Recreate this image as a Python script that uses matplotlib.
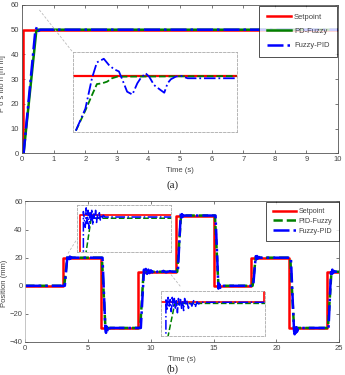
import matplotlib.pyplot as plt

# ---- (a) step response to 50 mm ----
a_sp_t = [0, 0.03, 0.03, 10]
a_sp_p = [0, 0, 50, 50]
a_pd_t = [0, 0.05, 0.45, 0.5, 10]
a_pd_p = [0, 0, 49.3, 50, 50]
a_fp_t = [0, 0.05, 0.42, 0.47, 0.52, 0.58, 10]
a_fp_p = [0, 0, 49.5, 51, 49.5, 50, 50]

# zoomed view (inset of panel a)
a_in_sp_t = [0.35, 0.85]
a_in_sp_p = [50, 50]
a_in_pd_t = [0.360, 0.389, 0.409, 0.424, 0.440, 0.455, 0.470, 0.486, 0.848]
a_in_pd_p = [47.28, 48.29, 49.05, 49.60, 49.64, 49.72, 49.89, 49.97, 50.0]
a_in_fp_t = [0.360, 0.389, 0.409, 0.424, 0.445, 0.460, 0.476, 0.491, 0.501, 0.516,
             0.532, 0.547, 0.557, 0.572, 0.583, 0.598, 0.618, 0.629, 0.639, 0.649,
             0.664, 0.680, 0.700, 0.848]
a_in_fp_p = [47.28, 48.38, 49.89, 50.68, 50.86, 50.56, 50.34, 50.23, 49.84, 49.22,
             49.08, 49.64, 49.89, 50.14, 49.97, 49.55, 49.30, 49.17, 49.64, 49.84,
             49.97, 50.01, 49.89, 49.89]

# ---- (b) multi-step tracking ----
b_sp_t = [0, 3, 6, 9, 12, 15, 18, 21, 24, 25]
b_sp_p = [0, 20, -30, 10, 50, 0, 20, -30, 10, 10]
b_pd_t = [0, 3.1, 3.35, 6.1, 6.38, 9.15, 9.42, 12.1, 12.4, 15.1, 15.38, 18.1, 18.35,
          21.1, 21.4, 24.1, 24.38, 25]
b_pd_p = [0, 0, 20, 20, -30, -30, 10, 10, 50, 50, 0, 0, 20, 20, -30, -30, 10, 10]
b_fp_t = [0, 3.15, 3.35, 3.4, 3.45, 3.5, 3.55, 3.6, 3.65, 3.75, 6.15, 6.38, 6.43, 6.48,
          6.53, 6.58, 6.65, 6.75, 9.2, 9.45, 9.5, 9.6, 9.7, 9.8, 9.9, 10.0, 10.1, 10.2,
          10.4, 10.6, 10.8, 11.0, 11.2, 11.5, 11.8, 12.15, 12.38, 12.43, 12.48, 12.55,
          12.65, 15.15, 15.38, 15.45, 15.52, 15.6, 15.7, 18.15, 18.35, 18.4, 18.45, 18.5,
          18.6, 18.7, 21.15, 21.4, 21.45, 21.5, 21.55, 21.6, 21.65, 21.7, 21.8, 24.15,
          24.35, 24.4, 24.45, 24.5, 24.6, 24.7, 25]
b_fp_p = [0, 0, 21, 18.5, 21.5, 19, 20.8, 19.3, 20.4, 20, 20, -31.5, -33.5, -29, -32.5,
          -29.5, -31, -30, -30, 11.5, 8, 12, 8.5, 11.5, 9, 11, 9.5, 10.8, 9.3, 10.7, 9.5,
          10.6, 9.6, 10.4, 10, 10, 51.5, 48.5, 51, 49.3, 50, 50, -2, 1.2, -1.5, 0.5, 0, 0,
          21, 18.8, 21.2, 19.3, 20.5, 20, 20, -32, -34.5, -29, -33.5, -29.5, -32.5, -30.5,
          -30, -30, 11.5, 8.5, 11.5, 9, 10.5, 10, 10]

# inset 1 of (b): step at 3 s
b1_sp_t = [2.97, 3.0, 3.0, 3.97]
b1_sp_p = [16, 16, 20, 20]
b1_pd_t = [3.05, 3.12, 3.15, 3.97]
b1_pd_p = [16, 19.6, 19.75, 19.75]
b1_fp_t = [3.04, 3.04, 3.06, 3.07, 3.08, 3.09, 3.10, 3.11, 3.12, 3.13, 3.14, 3.15, 3.16,
           3.17, 3.18, 3.19, 3.20, 3.21, 3.22, 3.23, 3.24, 3.25, 3.27, 3.97]
b1_fp_p = [16.0, 20.3, 19.0, 20.6, 19.3, 20.4, 18.9, 20.2, 19.5, 20.5, 19.2, 20.1, 19.6,
           20.4, 19.4, 20.0, 19.7, 20.2, 19.6, 19.9, 19.7, 20.0, 19.85, 19.85]

# inset 2 of (b): level 10 mm between 9 s and 12 s
b2_sp_t = [9.0, 12.0, 12.0]
b2_sp_p = [10, 10, 50]
b2_pd_t = [9.15, 9.4, 9.5, 12.03]
b2_pd_p = [6.0, 9.8, 9.85, 9.85]
b2_fp_t = [9.145, 9.145, 9.18, 9.21, 9.24, 9.27, 9.30, 9.33, 9.36, 9.39, 9.42, 9.45,
           9.48, 9.51, 9.54, 9.57, 9.60, 9.63, 9.66, 9.69, 9.72, 9.75, 9.80, 9.85, 9.90,
           9.95, 10.0, 10.05, 10.1, 10.15, 12.03]
b2_fp_p = [6.0, 10.3, 9.2, 10.4, 9.6, 10.2, 9.1, 10.4, 9.5, 10.3, 9.3, 10.1, 9.0, 10.3,
           9.6, 10.2, 9.4, 10.0, 9.2, 10.3, 9.7, 10.1, 9.4, 10.0, 9.6, 10.1, 9.5, 10.0,
           9.8, 9.95, 9.95]

RED = "#ff0000"
GREEN = "#008000"
BLUE = "#0000ff"
TXT = "#444444"

plt.rcParams.update({
    "font.family": "Liberation Sans",
    "font.size": 5.5,
    "xtick.direction": "in",
    "ytick.direction": "in",
    "xtick.major.size": 2.5,
    "ytick.major.size": 2.5,
    "xtick.major.width": 0.5,
    "ytick.major.width": 0.5,
    "xtick.color": TXT,
    "ytick.color": TXT,
    "axes.edgecolor": "#555555",
    "axes.linewidth": 0.6,
})


def style_axes(ax):
    ax.tick_params(top=True, right=True, labelsize=5.5, pad=2, labelcolor=TXT)


def style_inset(ax):
    ax.set_xticks([])
    ax.set_yticks([])
    for s in ax.spines.values():
        s.set_linestyle((0, (3, 2)))
        s.set_edgecolor("#aaaaaa")
        s.set_linewidth(0.6)


fig = plt.figure(figsize=(3.45, 3.75), dpi=100)

# ---------------- (a) ----------------
ax1 = fig.add_axes([0.0638, 0.5912, 0.916, 0.3955])
ax1.plot(a_sp_t, a_sp_p, color=RED, lw=1.8, label="Setpoint")
ax1.plot(a_pd_t, a_pd_p, color=GREEN, lw=1.8, label="PD-Fuzzy")
ax1.plot(a_fp_t, a_fp_p, color=BLUE, lw=1.8, ls="-.", label="Fuzzy-PID")
ax1.set_xlim(0, 10)
ax1.set_ylim(0, 60)
ax1.set_xticks(range(0, 11))
ax1.set_yticks(range(0, 61, 10))
style_axes(ax1)
ax1.set_xlabel("Time (s)", fontsize=5.5, color=TXT, labelpad=3)
ax1.set_ylabel("P o s itio n [m m]", fontsize=5.5, color=TXT)
ax1.yaxis.set_label_coords(-0.052, 0.47)
ax1.plot([0.55, 1.6], [58, 41], color="#bbbbbb", lw=0.6, ls=(0, (3, 2)))
leg = ax1.legend(loc="upper right", fontsize=5.5, frameon=True, fancybox=False,
                 edgecolor="black", handlelength=3.2, labelspacing=0.9,
                 borderpad=1.0, borderaxespad=0.1, handletextpad=0.4)
leg.get_frame().set_linewidth(0.6)
for t in leg.get_texts():
    t.set_color(TXT)

in1 = ax1.inset_axes([1.6, 8.5, 5.2, 32.5], transform=ax1.transData)
in1.plot(a_in_sp_t, a_in_sp_p, color=RED, lw=1.6)
in1.plot(a_in_pd_t, a_in_pd_p, color=GREEN, lw=1.3, ls="--")
in1.plot(a_in_fp_t, a_in_fp_p, color=BLUE, lw=1.3, ls="-.")
in1.set_xlim(0.35, 0.85)
in1.set_ylim(47.2, 51.2)
style_inset(in1)

fig.text(0.5, 1 - 185 / 375, "(a)", family="Liberation Serif", fontsize=8,
         ha="center", va="center", color="#222222")

# ---------------- (b) ----------------
ax2 = fig.add_axes([0.0733, 0.088, 0.910, 0.3747])
ax2.plot(b_sp_t, b_sp_p, color=RED, lw=1.8, drawstyle="steps-post", label="Setpoint")
ax2.plot(b_pd_t, b_pd_p, color=GREEN, lw=1.8, ls="--", label="PID-Fuzzy")
ax2.plot(b_fp_t, b_fp_p, color=BLUE, lw=1.8, ls="-.", label="Fuzzy-PID")
ax2.set_xlim(0, 25)
ax2.set_ylim(-40, 60)
ax2.set_xticks(range(0, 26, 5))
ax2.set_yticks(range(-40, 61, 20))
style_axes(ax2)
ax2.spines["left"].set_edgecolor("#bbbbbb")
ax2.set_xlabel("Time (s)", fontsize=5.5, color=TXT, labelpad=3)
ax2.set_ylabel("Position (mm)", fontsize=5.5, color=TXT)
ax2.yaxis.set_label_coords(-0.055, 0.42)
ax2.plot([3.4, 4.1], [23, 33], color="#bbbbbb", lw=0.6, ls=(0, (3, 2)))
ax2.plot([11.6, 12.4], [8, -1], color="#bbbbbb", lw=0.6, ls=(0, (3, 2)))
leg2 = ax2.legend(loc="upper right", fontsize=5.2, frameon=True, fancybox=False,
                  edgecolor="black", handlelength=3.2, labelspacing=0.35,
                  borderpad=0.9, borderaxespad=0.05, handletextpad=0.4)
leg2.get_frame().set_linewidth(0.6)
for t in leg2.get_texts():
    t.set_color(TXT)

in2 = ax2.inset_axes([4.1, 24.2, 7.5, 33], transform=ax2.transData)
in2.plot(b1_sp_t, b1_sp_p, color=RED, lw=1.2)
in2.plot(b1_pd_t, b1_pd_p, color=GREEN, lw=1.1, ls="--")
in2.plot(b1_fp_t, b1_fp_p, color=BLUE, lw=1.1, ls="-.")
in2.set_xlim(2.97, 3.97)
in2.set_ylim(17, 20.8)
style_inset(in2)

in3 = ax2.inset_axes([10.8, -35.7, 8.3, 32.2], transform=ax2.transData)
in3.plot(b2_sp_t, b2_sp_p, color=RED, lw=1.2)
in3.plot(b2_pd_t, b2_pd_p, color=GREEN, lw=1.1, ls="--")
in3.plot(b2_fp_t, b2_fp_p, color=BLUE, lw=1.1, ls="-.")
in3.set_xlim(9.0, 12.03)
in3.set_ylim(6.9, 11.0)
style_inset(in3)

fig.text(0.5, 0.002, "(b)", family="Liberation Serif", fontsize=7.5,
         ha="center", va="bottom", color="#222222")

fig.savefig("out.png", dpi=100)
